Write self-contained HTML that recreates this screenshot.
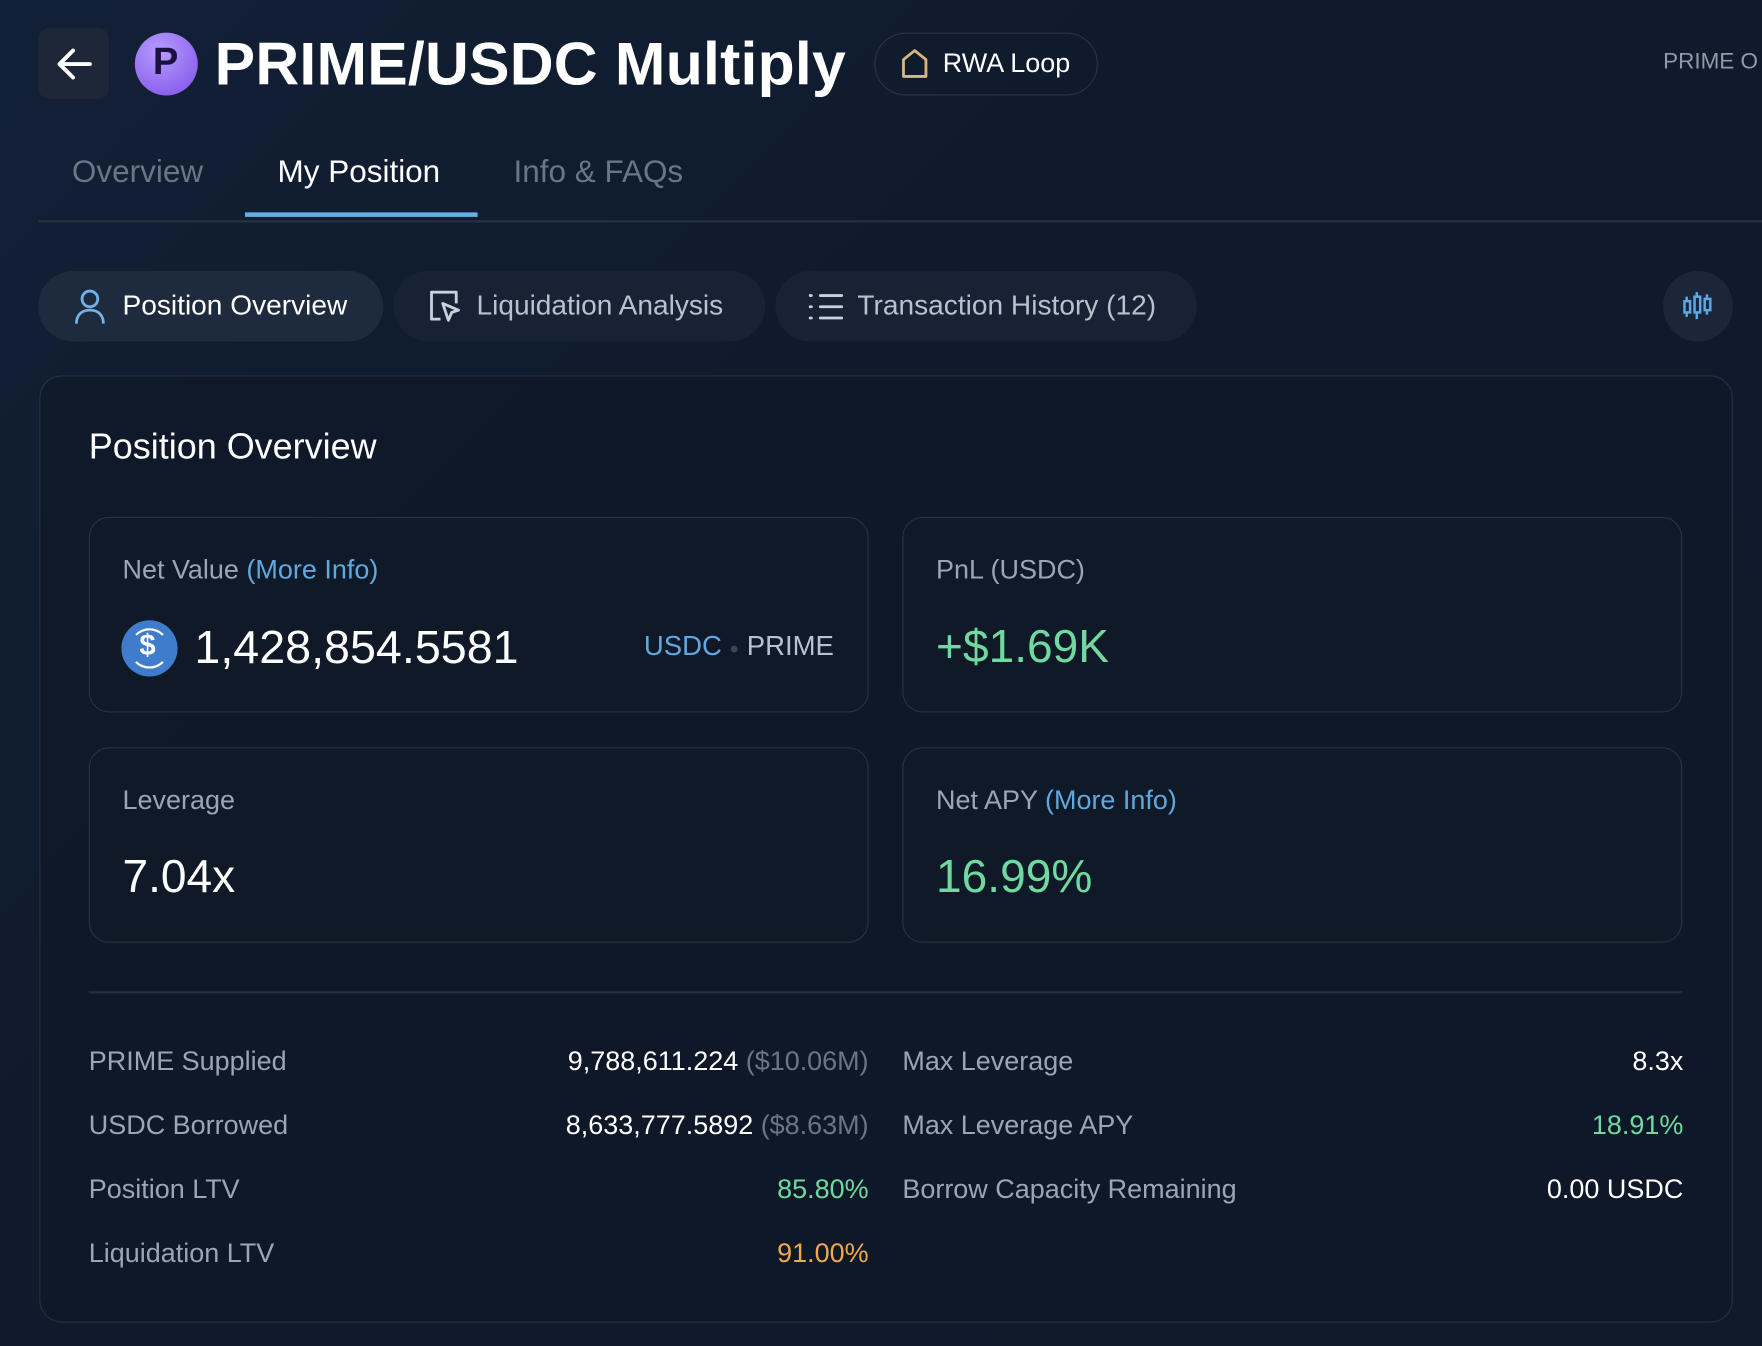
<!DOCTYPE html>
<html><head><meta charset="utf-8"><style>
html,body{margin:0;padding:0;width:1762px;height:1346px;overflow:hidden;background:#101a2c;}
#w{position:absolute;left:0;top:0;width:1568px;height:1198px;transform:scale(1.12372);transform-origin:0 0;
 background:linear-gradient(135deg,#122036 0%,#0f1a2c 40%,#111a2b 100%);font-family:"Liberation Sans",sans-serif;color:#fff;}
.a{position:absolute;white-space:nowrap;}
.lbl{color:#9aa5b5;font-size:24px;}
.box{position:absolute;border:1.5px solid #273246;border-radius:18px;background:#101928;}
.pill{position:absolute;top:241px;height:63px;border-radius:32px;background:#172234;}
.pt{position:absolute;top:258px;font-size:25px;color:#b8c1cd;}
.row{position:absolute;font-size:24px;line-height:30px;}
</style></head><body><div id="w">
<div class="a" style="left:34px;top:25px;width:63px;height:63px;border-radius:10px;background:#1e2738;"></div>
<svg class="a" style="left:48px;top:40px" width="36" height="34"><path d="M32 17H5M17 5L5 17l12 12" stroke="#fff" stroke-width="3.5" fill="none" stroke-linecap="round" stroke-linejoin="round"/></svg>
<div class="a" style="left:120px;top:29px;width:56px;height:56px;border-radius:50%;background:radial-gradient(circle at 40% 30%,#b79cff,#7d4fe6);"></div>
<div class="a" style="left:136px;top:36px;font-size:34px;font-weight:bold;color:#1b1240;">P</div>
<div class="a" style="left:191px;top:26px;font-size:54px;font-weight:bold;letter-spacing:0.2px;">PRIME/USDC Multiply</div>
<div class="a" style="left:778px;top:29px;width:197px;height:54px;border:1.5px solid #2a3446;border-radius:28px;"></div>
<svg class="a" style="left:801px;top:42px" width="26" height="28"><path d="M3 26V11L13 3l10 8v15z" stroke="#d9b77a" stroke-width="2.5" fill="none" stroke-linejoin="round"/></svg>
<div class="a" style="left:839px;top:43px;font-size:24px;">RWA Loop</div>
<div class="a" style="left:1480px;top:44px;font-size:20px;color:#8f9aab;">PRIME O</div>
<div class="a" style="left:64px;top:137px;font-size:28px;color:#6a7588;">Overview</div>
<div class="a" style="left:247px;top:137px;font-size:28px;color:#fff;">My Position</div>
<div class="a" style="left:457px;top:137px;font-size:28px;color:#6a7588;">Info &amp; FAQs</div>
<div class="a" style="left:34px;top:196px;width:1534px;height:2px;background:#263043;"></div>
<div class="a" style="left:218px;top:189px;width:207px;height:4px;background:#62b0e4;"></div>
<div class="pill" style="left:34px;width:307px;background:#1e2a3e;"></div>
<div class="pill" style="left:350px;width:331px;"></div>
<div class="pill" style="left:690px;width:375px;"></div>
<div class="pill" style="left:1480px;width:62px;background:#1c2639;"></div>
<svg class="a" style="left:64px;top:256px" width="32" height="34"><circle cx="16" cy="10" r="7" stroke="#6fb3e8" stroke-width="2.5" fill="none"/><path d="M4 32c0-8 5-12 12-12s12 4 12 12" stroke="#6fb3e8" stroke-width="2.5" fill="none"/></svg>
<div class="pt" style="left:109px;color:#fff;">Position Overview</div>
<svg class="a" style="left:379px;top:256px" width="34" height="34"><path d="M13 28H5V4h22v10" stroke="#c9d1db" stroke-width="2.5" fill="none" stroke-linejoin="round"/><path d="M15 14l14 6-6 2-3 7z" stroke="#c9d1db" stroke-width="2.5" fill="none" stroke-linejoin="round"/></svg>
<div class="pt" style="left:424px;">Liquidation Analysis</div>
<svg class="a" style="left:719px;top:259px" width="32" height="28"><g stroke="#c9d1db" stroke-width="2.5" stroke-linecap="round"><path d="M2 4h1M2 14h1M2 24h1M11 4h19M11 14h19M11 24h19"/></g></svg>
<div class="pt" style="left:763px;">Transaction History (12)</div>
<svg class="a" style="left:1496px;top:258px" width="30" height="30"><g stroke="#5ea9e3" stroke-width="2.2" fill="none"><rect x="3" y="10" width="5" height="10"/><rect x="12" y="6" width="5" height="14"/><rect x="21" y="8" width="5" height="10"/><path d="M5 6v4M5 20v4M14 2v4M14 20v6M23 4v4M23 18v4"/></g></svg>
<div class="a" style="left:35px;top:334px;width:1505px;height:841px;border:1.5px solid #253044;border-radius:20px;background:rgba(15,23,38,0.6);"></div>
<div class="a" style="left:79px;top:379px;font-size:32px;">Position Overview</div>
<div class="box" style="left:79px;top:460px;width:692px;height:172px;"></div>
<div class="box" style="left:803px;top:460px;width:692px;height:172px;"></div>
<div class="box" style="left:79px;top:665px;width:692px;height:172px;"></div>
<div class="box" style="left:803px;top:665px;width:692px;height:172px;"></div>
<div class="a lbl" style="left:109px;top:494px;">Net Value <span style="color:#5fa9e0">(More Info)</span></div>
<div class="a" style="left:108px;top:552px;width:50px;height:50px;border-radius:50%;background:#3f7ccc;"></div>
<div class="a" style="left:115px;top:559px;width:32px;height:32px;border-radius:50%;border:2.5px solid #fff;border-left-color:transparent;border-right-color:transparent;"></div>
<div class="a" style="left:124px;top:559px;font-size:26px;font-weight:bold;color:#fff;">$</div>
<div class="a" style="left:173px;top:552px;font-size:41.5px;">1,428,854.5581</div>
<div class="a" style="left:573px;top:562px;font-size:24.5px;color:#5fa9e0;">USDC <span style="color:#3a4558;font-size:14px;vertical-align:middle;">●</span> <span style="color:#b8c1cd">PRIME</span></div>
<div class="a lbl" style="left:833px;top:494px;">PnL (USDC)</div>
<div class="a" style="left:833px;top:552px;font-size:41px;color:#6fd9a0;">+$1.69K</div>
<div class="a lbl" style="left:109px;top:699px;">Leverage</div>
<div class="a" style="left:109px;top:757px;font-size:41px;">7.04x</div>
<div class="a lbl" style="left:833px;top:699px;">Net APY <span style="color:#5fa9e0">(More Info)</span></div>
<div class="a" style="left:833px;top:757px;font-size:41px;color:#6fd9a0;">16.99%</div>
<div class="a" style="left:79px;top:882px;width:1418px;height:2px;background:#232e40;"></div>
<div class="row lbl" style="left:79px;top:930px;">PRIME Supplied</div>
<div class="row lbl" style="left:79px;top:987px;">USDC Borrowed</div>
<div class="row lbl" style="left:79px;top:1044px;">Position LTV</div>
<div class="row lbl" style="left:79px;top:1101px;">Liquidation LTV</div>
<div class="row" style="right:795px;top:930px;">9,788,611.224 <span style="color:#6a7588">($10.06M)</span></div>
<div class="row" style="right:795px;top:987px;">8,633,777.5892 <span style="color:#6a7588">($8.63M)</span></div>
<div class="row" style="right:795px;top:1044px;color:#6fd9a0;">85.80%</div>
<div class="row" style="right:795px;top:1101px;color:#f0a94a;">91.00%</div>
<div class="row lbl" style="left:803px;top:930px;">Max Leverage</div>
<div class="row lbl" style="left:803px;top:987px;">Max Leverage APY</div>
<div class="row lbl" style="left:803px;top:1044px;">Borrow Capacity Remaining</div>
<div class="row" style="right:70px;top:930px;">8.3x</div>
<div class="row" style="right:70px;top:987px;color:#6fd9a0;">18.91%</div>
<div class="row" style="right:70px;top:1044px;">0.00 USDC</div>
</div></body></html>
